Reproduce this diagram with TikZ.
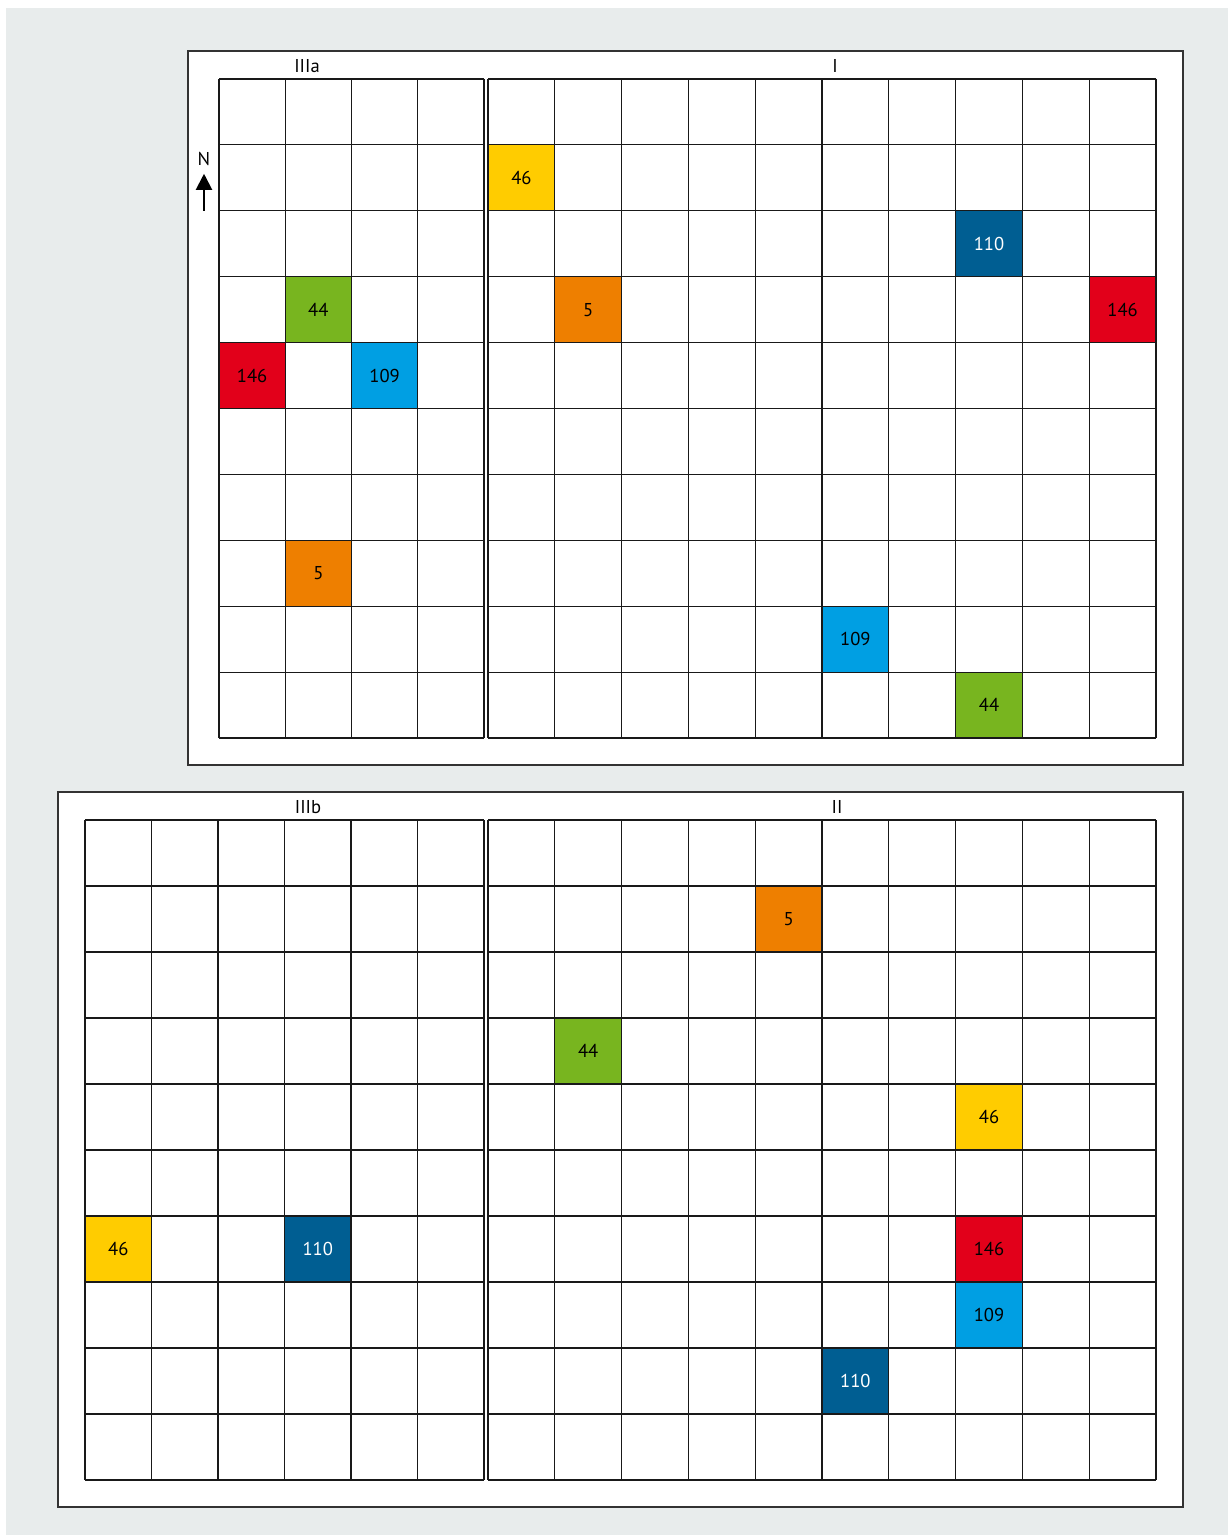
\documentclass[tikz,border=0pt]{standalone}
\usepackage{fontspec}
\setmainfont{PT Sans}
\usetikzlibrary{arrows.meta}
\definecolor{bggray}{HTML}{E8ECEC}
\definecolor{cyellow}{HTML}{FFCC00}
\definecolor{corange}{HTML}{EE7F00}
\definecolor{cgreen}{HTML}{78B51F}
\definecolor{cred}{HTML}{E2001A}
\definecolor{clblue}{HTML}{009FE3}
\definecolor{cdblue}{HTML}{005E92}
\begin{document}
\begin{tikzpicture}[x=0.5pt,y=-0.5pt, every node/.style={font=\fontsize{9.3}{10}\selectfont},
  cell/.style={minimum width=33.4pt,minimum height=33pt,inner sep=0pt},
  gridline/.style={line width=0.6pt,black!90},
  frame/.style={draw=black!80,line width=0.8pt,fill=white}]
% page and background
\fill[white] (0,0) rectangle (1228,1535);
\fill[bggray] (6,8) rectangle (1228,1535);
\useasboundingbox (0,0) rectangle (1228,1535);
\draw[frame] (188,51) rectangle (1183,765);
\draw[frame] (58,792) rectangle (1183,1507);

% top panel: IIIa
\node[cell,fill=cgreen] (a44) at ({219+66.25*1.5},{79+65.9*3.5}) {44};
\node[cell,fill=cred] (a146) at ({219+66.25*0.5},{79+65.9*4.5}) {146};
\node[cell,fill=clblue] (a109) at ({219+66.25*2.5},{79+65.9*4.5}) {109};
\node[cell,fill=corange] (a5) at ({219+66.25*1.5},{79+65.9*7.5}) {5};
% top panel: I
\node[cell,fill=cyellow] (i46) at ({488+66.8*0.5},{79+65.9*1.5}) {46};
\node[cell,fill=cdblue,text=white] (i110) at ({488+66.8*7.5},{79+65.9*2.5}) {110};
\node[cell,fill=corange] (i5) at ({488+66.8*1.5},{79+65.9*3.5}) {5};
\node[cell,fill=cred] (i146) at ({488+66.8*9.5},{79+65.9*3.5}) {146};
\node[cell,fill=clblue] (i109) at ({488+66.8*5.5},{79+65.9*8.5}) {109};
\node[cell,fill=cgreen] (i44) at ({488+66.8*7.5},{79+65.9*9.5}) {44};
% bottom panel: IIIb
\node[cell,fill=cyellow] (b46) at ({85+66.5*0.5},{820+66*6.5}) {46};
\node[cell,fill=cdblue,text=white] (b110) at ({85+66.5*3.5},{820+66*6.5}) {110};
% bottom panel: II
\node[cell,fill=corange] (ii5) at ({488+66.8*4.5},{820+66*1.5}) {5};
\node[cell,fill=cgreen] (ii44) at ({488+66.8*1.5},{820+66*3.5}) {44};
\node[cell,fill=cyellow] (ii46) at ({488+66.8*7.5},{820+66*4.5}) {46};
\node[cell,fill=cred] (ii146) at ({488+66.8*7.5},{820+66*6.5}) {146};
\node[cell,fill=clblue] (ii109) at ({488+66.8*7.5},{820+66*7.5}) {109};
\node[cell,fill=cdblue,text=white] (ii110) at ({488+66.8*5.5},{820+66*8.5}) {110};

% grids
\foreach \i in {0,...,4} \draw[gridline] ({219+66.25*\i},79) -- ({219+66.25*\i},738);
\foreach \j in {0,...,10} \draw[gridline] (219,{79+65.9*\j}) -- (484,{79+65.9*\j});
\foreach \i in {0,...,10} \draw[gridline] ({488+66.8*\i},79) -- ({488+66.8*\i},738);
\foreach \j in {0,...,10} \draw[gridline] (488,{79+65.9*\j}) -- (1156,{79+65.9*\j});
\foreach \i in {0,...,6} \draw[gridline] ({85+66.5*\i},820) -- ({85+66.5*\i},1480);
\foreach \j in {0,...,10} \draw[gridline] (85,{820+66*\j}) -- (484,{820+66*\j});
\foreach \i in {0,...,10} \draw[gridline] ({488+66.8*\i},820) -- ({488+66.8*\i},1480);
\foreach \j in {0,...,10} \draw[gridline] (488,{820+66*\j}) -- (1156,{820+66*\j});

% labels
\node (lIIIa) at (307,66) {IIIa};
\node (lI) at (835,66) {I};
\node (lIIIb) at (308,807) {IIIb};
\node (lII) at (837,807) {II};

% north arrow
\node (north) at (204,159) {N};
\coordinate (ntail) at (204,211);
\draw[line width=1pt,-{Triangle[width=8pt,length=8pt]}] (ntail) -- ([yshift=-0.5pt]north.south);
\end{tikzpicture}
\end{document}
